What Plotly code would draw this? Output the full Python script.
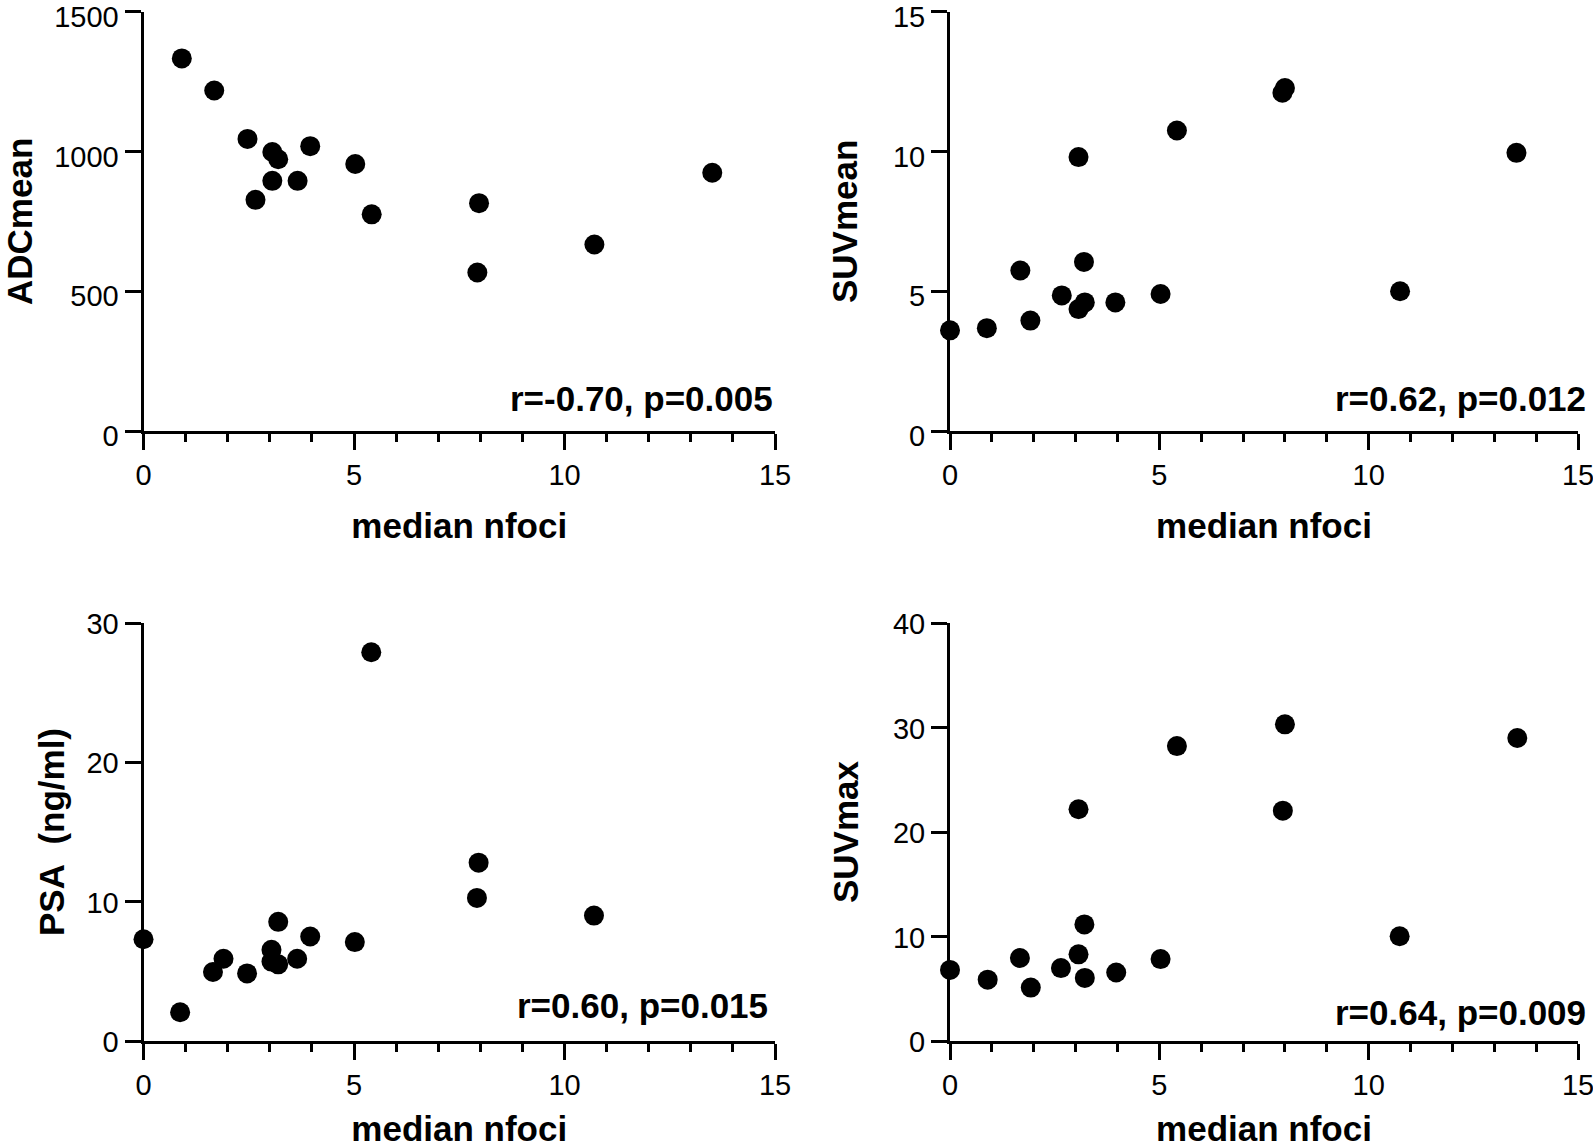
import plotly.graph_objects as go

# ---- data ----
adc_x = [0.91, 1.68, 2.47, 2.66, 3.06, 3.20, 3.06, 3.66, 3.96, 5.03, 5.42, 7.97, 7.93, 10.71, 13.51]
adc_y = [1333, 1218, 1045, 827, 998, 972, 895, 895, 1019, 955, 775, 815, 567, 667, 924]

suvmean_x = [0.0, 0.88, 1.92, 1.68, 2.67, 3.07, 3.22, 3.07, 3.20, 3.95, 5.03, 5.42, 7.94, 8.00, 10.75, 13.53]
suvmean_y = [3.60, 3.68, 3.95, 5.74, 4.85, 4.36, 4.60, 9.80, 6.05, 4.60, 4.90, 10.75, 12.10, 12.27, 5.00, 9.95]

psa_x = [0.0, 0.87, 1.65, 1.90, 2.46, 3.04, 3.04, 3.20, 3.20, 3.65, 3.96, 5.02, 5.41, 7.96, 7.92, 10.70]
psa_y = [7.3, 2.06, 4.95, 5.9, 4.85, 6.55, 5.7, 5.5, 8.55, 5.9, 7.5, 7.1, 27.9, 12.8, 10.27, 9.0]

suvmax_x = [0.0, 0.90, 1.67, 1.93, 2.65, 3.07, 3.07, 3.21, 3.22, 3.97, 5.03, 5.42, 8.00, 7.95, 10.74, 13.55]
suvmax_y = [6.8, 5.87, 7.94, 5.11, 6.98, 8.29, 22.18, 11.16, 6.04, 6.56, 7.84, 28.22, 30.3, 22.04, 10.02, 29.0]

x_title = "median nfoci"
y_titles = ["ADCmean", "SUVmean", "PSA\u00a0 (ng/ml)", "SUVmax"]
stats = ["r=-0.70, p=0.005", "r=0.62, p=0.012", "r=0.60, p=0.015", "r=0.64, p=0.009"]
y_ranges = [[0, 1500], [0, 15], [0, 30], [0, 40]]
y_dticks = [500, 5, 10, 10]
# annotation anchor: x in axis-domain fraction, y in data units
stat_pos = [(1.0, 118), (1.016, 1.18), (0.992, 2.52), (1.016, 2.7)]

panels = [(adc_x, adc_y), (suvmean_x, suvmean_y), (psa_x, psa_y), (suvmax_x, suvmax_y)]

W, H = 1593, 1148
FONT = "Liberation Sans, Arial, sans-serif"

def xd(a, b):
    return [a / W, b / W]

def yd(top, bottom):
    return [1 - bottom / H, 1 - top / H]

x_domains = [xd(143.5, 775), xd(950, 1578)]
y_domains = [yd(11.7, 431), yd(623, 1041)]
y_standoffs = [13, 25, 12, 24]
x_standoffs = [24, 28]      # per row
y_label_shift = [5, 1]      # per row (px; moves y tick labels slightly down)

fig = go.Figure()
layout = dict(
    width=W, height=H,
    margin=dict(l=0, r=0, t=0, b=0),
    paper_bgcolor="white", plot_bgcolor="white",
    showlegend=False,
    font=dict(family=FONT, color="black"),
)
annotations = []
for i, (xs, ys) in enumerate(panels):
    n = "" if i == 0 else str(i + 1)
    col, row = i % 2, i // 2
    fig.add_trace(go.Scatter(
        x=xs, y=ys, mode="markers", xaxis="x" + n, yaxis="y" + n,
        marker=dict(size=20, color="black", line=dict(width=0)),
        cliponaxis=False,
    ))
    layout["xaxis" + n] = dict(
        domain=x_domains[col], anchor="y" + n, range=[0, 15],
        tickmode="linear", tick0=0, dtick=5,
        showgrid=False, zeroline=False,
        showline=True, linewidth=3, linecolor="black",
        ticks="outside", ticklen=16, tickwidth=3, tickcolor="black",
        minor=dict(ticks="outside", ticklen=8, tickwidth=3, tickcolor="black", dtick=1, showgrid=False),
        tickfont=dict(size=29, family=FONT, color="black"),
        ticklabeloverflow="allow",
        title=dict(text=x_title, font=dict(size=35, family=FONT, color="black", weight="bold"),
                   standoff=x_standoffs[row]),
        automargin=False,
        fixedrange=True,
    )
    layout["yaxis" + n] = dict(
        domain=y_domains[row], anchor="x" + n, range=y_ranges[i],
        tickmode="linear", tick0=0, dtick=y_dticks[i],
        showgrid=False, zeroline=False,
        showline=True, linewidth=3, linecolor="black",
        ticks="outside", ticklen=16, tickwidth=3, tickcolor="black",
        tickfont=dict(size=29, family=FONT, color="black"),
        ticklabeloverflow="allow",
        ticklabelshift=y_label_shift[row],
        title=dict(text=y_titles[i], font=dict(size=35, family=FONT, color="black", weight="bold"),
                   standoff=y_standoffs[i]),
        automargin=False,
        fixedrange=True,
    )
    sx, sy = stat_pos[i]
    annotations.append(dict(
        text=stats[i], x=sx, y=sy, xref="x" + n + " domain", yref="y" + n,
        xanchor="right", yanchor="middle", showarrow=False,
        font=dict(size=35, family=FONT, color="black", weight="bold"),
    ))
layout["annotations"] = annotations
fig.update_layout(**layout)
# remove the browser's default 8px body margin so the 1593x1148 figure fills the window
fig.write_html(
    "out.html",
    config={"displayModeBar": False},
    post_script="document.body.style.margin='0';document.body.style.overflow='hidden';",
)
